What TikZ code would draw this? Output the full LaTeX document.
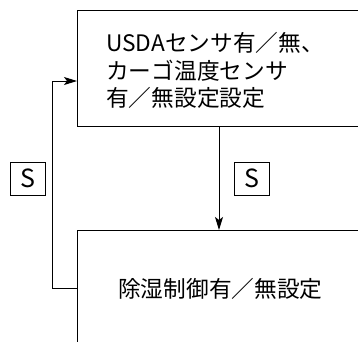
\documentclass[tikz,border=0pt]{standalone}
\usepackage{fontspec}
\setmainfont{Noto Sans CJK JP}
\usetikzlibrary{arrows.meta}
\begin{document}
\begin{tikzpicture}[x=1pt,y=-1pt,
  box/.style={draw,line width=1pt,rectangle,inner sep=0pt,anchor=north west},
  lbl/.style={font=\fontsize{22.7}{27.5}\selectfont,anchor=west,align=left,inner sep=0pt},
  sbox/.style={draw,line width=0.9pt,minimum width=35pt,minimum height=33pt,inner sep=0pt,font=\fontsize{25}{27}\selectfont},
  conn/.style={line width=0.9pt},
  tip/.style={-{Stealth[length=13pt,width=8pt,inset=3pt]}}]
\useasboundingbox (0,0) rectangle (358,341);
\clip (0,0) rectangle (358,341);
\node[box,minimum width=320pt,minimum height=116pt] (top) at (77,10) {};
\node[box,minimum width=320pt,minimum height=114pt] (bot) at (77,230) {};
\node[lbl] (toptext) at (106,70.5) {USDAセンサ有／無、\\カーゴ温度センサ\\有／無設定設定};
\node[lbl] (bottext) at (118,289) {除湿制御有／無設定};
\coordinate (dx) at (219,0);
\draw[conn,tip] (dx |- top.south) -- (dx |- bot.north);
\coordinate (fbstart) at (77,288);
\coordinate (fbx) at (52,0);
\coordinate (fbend) at (77,81);
\draw[conn,tip] (fbstart) -- (fbx |- fbstart) -- (fbx |- fbend) -- (fbend);
\node[sbox] (s1) at (251.5,178.5) {S};
\node[sbox] (s2) at (27.5,178.5) {S};
\end{tikzpicture}
\end{document}
